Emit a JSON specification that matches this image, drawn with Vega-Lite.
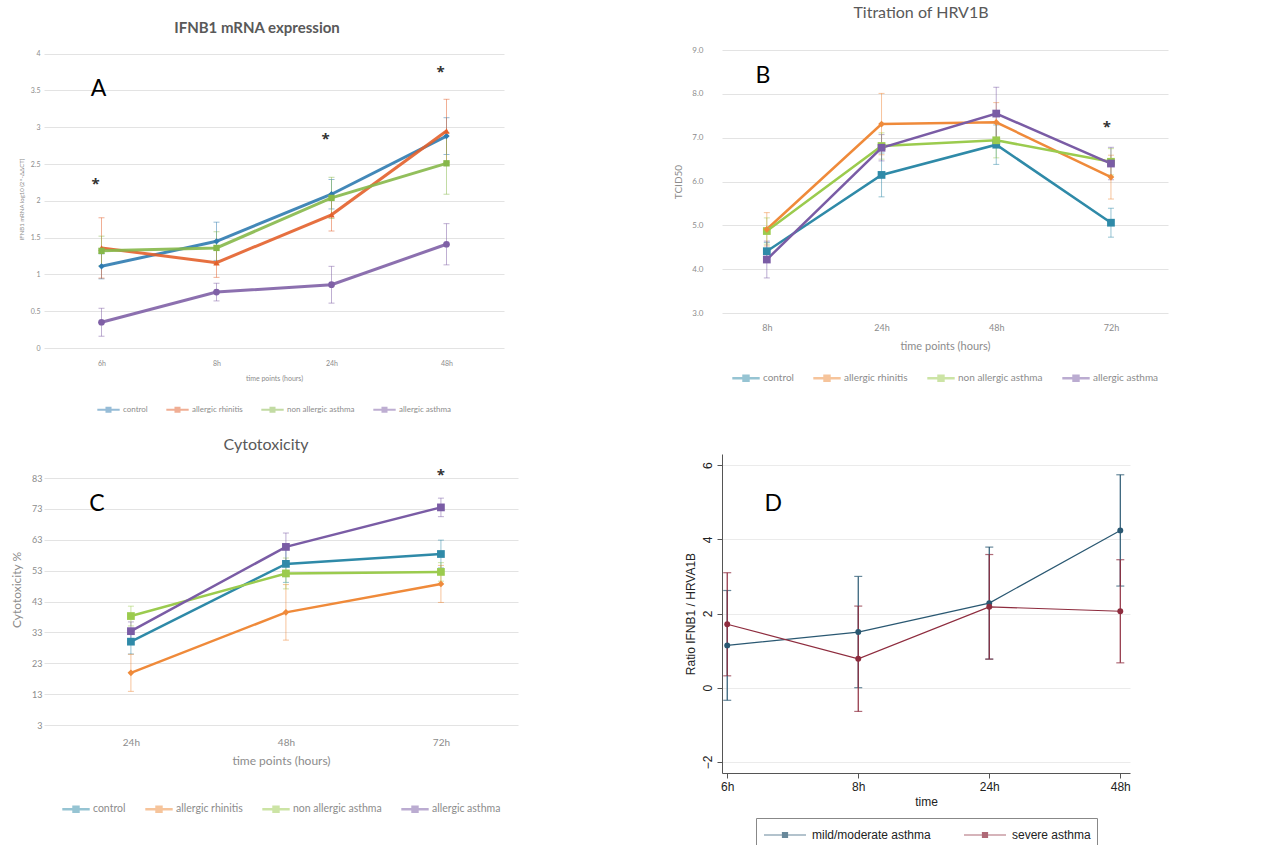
{
  "$schema": "https://vega.github.io/schema/vega-lite/v6.json",
  "padding": {"left": 10, "top": 5, "right": 5, "bottom": 0},
  "bounds": "flush",
  "columns": 2,
  "align": {"row": "all", "column": "none"},
  "spacing": {"row": 85, "column": 204},
  "resolve": {"scale": {"color": "independent", "shape": "independent", "x": "independent", "y": "independent"}, "legend": {"color": "independent", "shape": "independent"}},
  "config": {
    "font": "Lato",
    "view": {"stroke": null},
    "axis": {"labelColor": "#8c8c8c", "titleColor": "#8c8c8c", "titleFontWeight": "normal", "gridColor": "#e3e3e3", "domain": false, "ticks": false},
    "legend": {"labelColor": "#8c8c8c", "orient": "bottom", "direction": "horizontal", "layout": {"bottom": {"anchor": "middle"}}},
    "title": {"color": "#595959", "fontWeight": "normal"}
  },
  "datasets": {
    "a": [
      {"group": "control", "time": "6h", "mean": 1.11, "lo": 0.94, "hi": 1.28},
      {"group": "control", "time": "8h", "mean": 1.45, "lo": 1.19, "hi": 1.71},
      {"group": "control", "time": "24h", "mean": 2.09, "lo": 1.89, "hi": 2.29},
      {"group": "control", "time": "48h", "mean": 2.88, "lo": 2.63, "hi": 3.13},
      {"group": "allergic rhinitis", "time": "6h", "mean": 1.36, "lo": 0.95, "hi": 1.77},
      {"group": "allergic rhinitis", "time": "8h", "mean": 1.16, "lo": 0.96, "hi": 1.36},
      {"group": "allergic rhinitis", "time": "24h", "mean": 1.81, "lo": 1.59, "hi": 2.03},
      {"group": "allergic rhinitis", "time": "48h", "mean": 2.95, "lo": 2.52, "hi": 3.38},
      {"group": "non allergic asthma", "time": "6h", "mean": 1.32, "lo": 1.12, "hi": 1.52},
      {"group": "non allergic asthma", "time": "8h", "mean": 1.36, "lo": 1.14, "hi": 1.58},
      {"group": "non allergic asthma", "time": "24h", "mean": 2.04, "lo": 1.76, "hi": 2.32},
      {"group": "non allergic asthma", "time": "48h", "mean": 2.51, "lo": 2.09, "hi": 2.93},
      {"group": "allergic asthma", "time": "6h", "mean": 0.35, "lo": 0.16, "hi": 0.54},
      {"group": "allergic asthma", "time": "8h", "mean": 0.76, "lo": 0.64, "hi": 0.88},
      {"group": "allergic asthma", "time": "24h", "mean": 0.86, "lo": 0.61, "hi": 1.11},
      {"group": "allergic asthma", "time": "48h", "mean": 1.41, "lo": 1.13, "hi": 1.69}
    ],
    "aStars": [
      {"time": "6h", "mean": 2.28, "label": "*"},
      {"time": "24h", "mean": 2.9, "label": "*"},
      {"time": "48h", "mean": 3.8, "label": "*"}
    ],
    "aLetter": [{"time": "6h", "mean": 3.52, "label": "A"}],
    "b": [
      {"group": "control", "time": "8h", "mean": 4.41, "lo": 4.21, "hi": 4.61},
      {"group": "control", "time": "24h", "mean": 6.15, "lo": 5.65, "hi": 6.65},
      {"group": "control", "time": "48h", "mean": 6.84, "lo": 6.39, "hi": 7.29},
      {"group": "control", "time": "72h", "mean": 5.06, "lo": 4.73, "hi": 5.39},
      {"group": "allergic rhinitis", "time": "8h", "mean": 4.91, "lo": 4.53, "hi": 5.29},
      {"group": "allergic rhinitis", "time": "24h", "mean": 7.31, "lo": 6.61, "hi": 8.01},
      {"group": "allergic rhinitis", "time": "48h", "mean": 7.35, "lo": 6.9, "hi": 7.8},
      {"group": "allergic rhinitis", "time": "72h", "mean": 6.1, "lo": 5.6, "hi": 6.6},
      {"group": "non allergic asthma", "time": "8h", "mean": 4.87, "lo": 4.57, "hi": 5.17},
      {"group": "non allergic asthma", "time": "24h", "mean": 6.81, "lo": 6.51, "hi": 7.11},
      {"group": "non allergic asthma", "time": "48h", "mean": 6.94, "lo": 6.54, "hi": 7.34},
      {"group": "non allergic asthma", "time": "72h", "mean": 6.45, "lo": 6.15, "hi": 6.75},
      {"group": "allergic asthma", "time": "8h", "mean": 4.22, "lo": 3.8, "hi": 4.64},
      {"group": "allergic asthma", "time": "24h", "mean": 6.77, "lo": 6.47, "hi": 7.07},
      {"group": "allergic asthma", "time": "48h", "mean": 7.55, "lo": 6.95, "hi": 8.15},
      {"group": "allergic asthma", "time": "72h", "mean": 6.41, "lo": 6.04, "hi": 6.78}
    ],
    "bStars": [{"time": "72h", "mean": 7.33, "label": "*"}],
    "bLetter": [{"time": "8h", "mean": 8.41, "label": "B"}],
    "c": [
      {"group": "control", "time": "24h", "mean": 30.0, "lo": 26.0, "hi": 34.0},
      {"group": "control", "time": "48h", "mean": 55.2, "lo": 49.2, "hi": 61.2},
      {"group": "control", "time": "72h", "mean": 58.4, "lo": 53.9, "hi": 62.9},
      {"group": "allergic rhinitis", "time": "24h", "mean": 19.9, "lo": 13.9, "hi": 25.9},
      {"group": "allergic rhinitis", "time": "48h", "mean": 39.5, "lo": 30.5, "hi": 48.5},
      {"group": "allergic rhinitis", "time": "72h", "mean": 48.7, "lo": 42.7, "hi": 54.7},
      {"group": "non allergic asthma", "time": "24h", "mean": 38.3, "lo": 35.1, "hi": 41.5},
      {"group": "non allergic asthma", "time": "48h", "mean": 52.1, "lo": 47.1, "hi": 57.1},
      {"group": "non allergic asthma", "time": "72h", "mean": 52.6, "lo": 49.6, "hi": 55.6},
      {"group": "allergic asthma", "time": "24h", "mean": 33.4, "lo": 30.4, "hi": 36.4},
      {"group": "allergic asthma", "time": "48h", "mean": 60.7, "lo": 56.2, "hi": 65.2},
      {"group": "allergic asthma", "time": "72h", "mean": 73.5, "lo": 70.5, "hi": 76.5}
    ],
    "cStars": [{"time": "72h", "mean": 85.4, "label": "*"}],
    "cLetter": [{"time": "24h", "mean": 74.6, "label": "C"}],
    "d": [
      {"group": "mild/moderate asthma", "time": "6h", "mean": 1.14, "lo": -0.34, "hi": 2.62},
      {"group": "mild/moderate asthma", "time": "8h", "mean": 1.5, "lo": 0.0, "hi": 3.0},
      {"group": "mild/moderate asthma", "time": "24h", "mean": 2.28, "lo": 0.77, "hi": 3.79},
      {"group": "mild/moderate asthma", "time": "48h", "mean": 4.24, "lo": 2.74, "hi": 5.74},
      {"group": "severe asthma", "time": "6h", "mean": 1.71, "lo": 0.32, "hi": 3.1},
      {"group": "severe asthma", "time": "8h", "mean": 0.78, "lo": -0.64, "hi": 2.2},
      {"group": "severe asthma", "time": "24h", "mean": 2.18, "lo": 0.77, "hi": 3.59},
      {"group": "severe asthma", "time": "48h", "mean": 2.06, "lo": 0.67, "hi": 3.45}
    ],
    "dLetter": [{"time": "6h", "mean": 4.96, "label": "D"}]
  },
  "concat": [
    {
      "width": 460,
      "height": 298,
      "title": {"text": "IFNB1 mRNA expression", "fontSize": 15, "fontWeight": "bold", "dx": -17, "offset": 14},
      "encoding": {
        "x": {"field": "time", "type": "nominal", "sort": ["6h", "8h", "24h", "48h"], "scale": {"type": "point", "padding": 0.5}, "title": "time points (hours)", "axis": {"labelAngle": 0, "labelFontSize": 7, "labelPadding": 11, "titleFontSize": 7, "titlePadding": 8, "grid": false}},
        "y": {"field": "mean", "type": "quantitative", "scale": {"domain": [0, 4.05], "nice": false, "zero": false}, "title": "IFNB1 mRNA log10 (2^-ΔΔCT)", "axis": {"values": [0, 0.5, 1, 1.5, 2, 2.5, 3, 3.5, 4], "format": "~g", "labelFontSize": 7, "labelPadding": 4, "titleFontSize": 6, "titlePadding": 6}},
        "color": {"field": "group", "type": "nominal", "scale": {"domain": ["control", "allergic rhinitis", "non allergic asthma", "allergic asthma"], "range": ["#2f7bb0", "#e3602b", "#86b84a", "#7f60a6"]}, "legend": {"title": null, "labelFontSize": 8, "symbolType": "M-1,0H1M-0.18,-0.18H0.18V0.18H-0.18Z", "symbolSize": 500, "symbolStrokeWidth": 2, "columnPadding": 14, "labelOffset": 2, "offset": 16}}
      },
      "layer": [
        {
          "data": {"name": "a"},
          "mark": {"type": "errorbar", "ticks": {"size": 6}, "thickness": 1, "opacity": 0.5},
          "encoding": {
            "y": {"field": "lo", "type": "quantitative", "title": "IFNB1 mRNA log10 (2^-ΔΔCT)"},
            "y2": {"field": "hi"}
          }
        },
        {
          "data": {"name": "a"},
          "mark": {"type": "line", "strokeWidth": 3, "opacity": 0.9}
        },
        {
          "data": {"name": "a"},
          "transform": [{"filter": "datum.group === 'control'"}],
          "mark": {"type": "point", "filled": true, "size": 40, "opacity": 1, "shape": "diamond"}
        },
        {
          "data": {"name": "a"},
          "transform": [{"filter": "datum.group === 'allergic rhinitis'"}],
          "mark": {"type": "point", "filled": true, "size": 40, "opacity": 1, "shape": "triangle-up"}
        },
        {
          "data": {"name": "a"},
          "transform": [{"filter": "datum.group === 'non allergic asthma'"}],
          "mark": {"type": "point", "filled": true, "size": 40, "opacity": 1, "shape": "square"}
        },
        {
          "data": {"name": "a"},
          "transform": [{"filter": "datum.group === 'allergic asthma'"}],
          "mark": {"type": "point", "filled": true, "size": 45, "opacity": 1, "shape": "circle"}
        },
        {
          "data": {"name": "aStars"},
          "mark": {"type": "text", "fontSize": 15, "font": "Open Sans", "fontWeight": "bold", "dy": 4, "dx": -6},
          "encoding": {"text": {"field": "label"}, "color": {"value": "#333333"}}
        },
        {
          "data": {"name": "aLetter"},
          "mark": {"type": "text", "fontSize": 23, "font": "Lato", "dx": -3},
          "encoding": {"text": {"field": "label"}, "color": {"value": "#000000"}}
        }
      ]
    },
    {
      "width": 446,
      "height": 263,
      "title": {"text": "Titration of HRV1B", "fontSize": 16, "dx": -24, "offset": 25},
      "encoding": {
        "x": {"field": "time", "type": "nominal", "sort": ["8h", "24h", "48h", "72h"], "scale": {"type": "point", "padding": 0.444, "align": 0.44}, "title": "time points (hours)", "axis": {"labelAngle": 0, "labelFontSize": 9, "labelPadding": 10, "titleFontSize": 11, "titlePadding": 8, "grid": false}},
        "y": {"field": "mean", "type": "quantitative", "scale": {"domain": [3, 9], "nice": false, "zero": false}, "title": "TCID50", "axis": {"values": [3, 4, 5, 6, 7, 8, 9], "format": ".1f", "labelFontSize": 8, "labelPadding": 19, "titleFontSize": 10, "titlePadding": 8}},
        "color": {"field": "group", "type": "nominal", "scale": {"domain": ["control", "allergic rhinitis", "non allergic asthma", "allergic asthma"], "range": ["#2f8aa8", "#ef8a3a", "#9bcb4e", "#7a5ca5"]}, "legend": {"title": null, "labelFontSize": 10, "symbolType": "M-1,0H1M-0.18,-0.18H0.18V0.18H-0.18Z", "symbolSize": 750, "symbolStrokeWidth": 2.5, "columnPadding": 14, "labelOffset": 2, "offset": 12}}
      },
      "layer": [
        {
          "data": {"name": "b"},
          "mark": {"type": "errorbar", "ticks": {"size": 6}, "thickness": 1, "opacity": 0.5},
          "encoding": {
            "y": {"field": "lo", "type": "quantitative", "title": "TCID50"},
            "y2": {"field": "hi"}
          }
        },
        {
          "data": {"name": "b"},
          "mark": {"type": "line", "strokeWidth": 2.5}
        },
        {
          "data": {"name": "b"},
          "transform": [{"filter": "datum.group !== 'allergic rhinitis'"}],
          "mark": {"type": "point", "filled": true, "size": 60, "opacity": 1, "shape": "square"}
        },
        {
          "data": {"name": "b"},
          "transform": [{"filter": "datum.group === 'allergic rhinitis'"}],
          "mark": {"type": "point", "filled": true, "size": 45, "opacity": 1, "shape": "diamond"}
        },
        {
          "data": {"name": "bStars"},
          "mark": {"type": "text", "fontSize": 15, "font": "Open Sans", "fontWeight": "bold", "dy": 4, "dx": -4},
          "encoding": {"text": {"field": "label"}, "color": {"value": "#333333"}}
        },
        {
          "data": {"name": "bLetter"},
          "mark": {"type": "text", "fontSize": 23, "font": "Lato", "dx": -4},
          "encoding": {"text": {"field": "label"}, "color": {"value": "#000000"}}
        }
      ]
    },
    {
      "width": 474,
      "height": 271,
      "title": {"text": "Cytotoxicity", "fontSize": 16, "dx": -15, "offset": 1},
      "encoding": {
        "x": {"field": "time", "type": "nominal", "sort": ["24h", "48h", "72h"], "scale": {"type": "point", "padding": 0.529, "align": 0.53}, "title": "time points (hours)", "axis": {"labelAngle": 0, "labelFontSize": 10, "labelPadding": 12, "titleFontSize": 12, "titlePadding": 8, "grid": false}},
        "y": {"field": "mean", "type": "quantitative", "scale": {"domain": [3, 90.8], "nice": false, "zero": false}, "title": "Cytotoxicity %", "axis": {"values": [3, 13, 23, 33, 43, 53, 63, 73, 83], "format": "d", "labelFontSize": 9, "labelPadding": 2, "titleFontSize": 12, "titlePadding": 8}},
        "color": {"field": "group", "type": "nominal", "scale": {"domain": ["control", "allergic rhinitis", "non allergic asthma", "allergic asthma"], "range": ["#2f8aa8", "#ef8a3a", "#9bcb4e", "#7a5ca5"]}, "legend": {"title": null, "labelFontSize": 10.5, "symbolType": "M-1,0H1M-0.18,-0.18H0.18V0.18H-0.18Z", "symbolSize": 750, "symbolStrokeWidth": 2.5, "columnPadding": 14, "labelOffset": 2, "offset": 28}}
      },
      "layer": [
        {
          "data": {"name": "c"},
          "mark": {"type": "errorbar", "ticks": {"size": 6}, "thickness": 1, "opacity": 0.5},
          "encoding": {
            "y": {"field": "lo", "type": "quantitative", "title": "Cytotoxicity %"},
            "y2": {"field": "hi"}
          }
        },
        {
          "data": {"name": "c"},
          "mark": {"type": "line", "strokeWidth": 2.5}
        },
        {
          "data": {"name": "c"},
          "transform": [{"filter": "datum.group !== 'allergic rhinitis'"}],
          "mark": {"type": "point", "filled": true, "size": 60, "opacity": 1, "shape": "square"}
        },
        {
          "data": {"name": "c"},
          "transform": [{"filter": "datum.group === 'allergic rhinitis'"}],
          "mark": {"type": "point", "filled": true, "size": 45, "opacity": 1, "shape": "diamond"}
        },
        {
          "data": {"name": "cStars"},
          "mark": {"type": "text", "fontSize": 15, "font": "Open Sans", "fontWeight": "bold", "dy": 4},
          "encoding": {"text": {"field": "label"}, "color": {"value": "#333333"}}
        },
        {
          "data": {"name": "cLetter"},
          "mark": {"type": "text", "fontSize": 23, "font": "Lato", "dx": -34},
          "encoding": {"text": {"field": "label"}, "color": {"value": "#000000"}}
        }
      ]
    },
    {
      "width": 408,
      "height": 319,
      "encoding": {
        "x": {"field": "time", "type": "nominal", "sort": ["6h", "8h", "24h", "48h"], "scale": {"type": "point", "padding": 0.057, "align": 0.35}, "title": "time", "axis": {"labelAngle": 0, "domain": true, "ticks": true, "tickSize": 5, "domainColor": "#555555", "tickColor": "#555555", "labelColor": "#222222", "titleColor": "#222222", "labelFont": "Liberation Sans", "titleFont": "Liberation Sans", "labelFontSize": 12, "titleFontSize": 12, "labelPadding": 3, "titlePadding": 4, "grid": false}},
        "y": {"field": "mean", "type": "quantitative", "scale": {"domain": [-2.3, 6.3], "nice": false, "zero": false}, "title": "Ratio IFNB1 / HRVA1B", "axis": {"values": [-2, 0, 2, 4, 6], "format": "d", "labelAngle": 270, "labelAlign": "center", "labelBaseline": "bottom", "domain": true, "ticks": true, "tickSize": 5, "domainColor": "#555555", "tickColor": "#555555", "labelColor": "#222222", "titleColor": "#222222", "labelFont": "Liberation Sans", "titleFont": "Liberation Sans", "labelFontSize": 12, "titleFontSize": 12, "labelPadding": 3, "titlePadding": 4, "gridColor": "#ebebeb"}},
        "color": {"field": "group", "type": "nominal", "scale": {"domain": ["mild/moderate asthma", "severe asthma"], "range": ["#2a5872", "#8e2c3e"]}, "legend": {"title": null, "labelFont": "Liberation Sans", "labelFontSize": 12, "labelColor": "#222222", "symbolType": "M-2.1,0H2.1M-0.25,-0.25H0.25V0.25H-0.25Z", "symbolSize": 400, "symbolOffset": 12, "labelOffset": 16, "symbolStrokeWidth": 1.2, "columnPadding": 30, "strokeColor": "#888888", "padding": 6, "offset": 11}}
      },
      "layer": [
        {
          "data": {"name": "d"},
          "mark": {"type": "errorbar", "ticks": {"size": 8}, "thickness": 1.2},
          "encoding": {
            "y": {"field": "lo", "type": "quantitative", "title": "Ratio IFNB1 / HRVA1B"},
            "y2": {"field": "hi"}
          }
        },
        {
          "data": {"name": "d"},
          "mark": {"type": "line", "strokeWidth": 1.2}
        },
        {
          "data": {"name": "d"},
          "mark": {"type": "circle", "size": 35, "opacity": 1}
        },
        {
          "data": {"name": "dLetter"},
          "mark": {"type": "text", "fontSize": 23, "font": "Lato", "dx": 46},
          "encoding": {"text": {"field": "label"}, "color": {"value": "#000000"}}
        }
      ]
    }
  ]
}
